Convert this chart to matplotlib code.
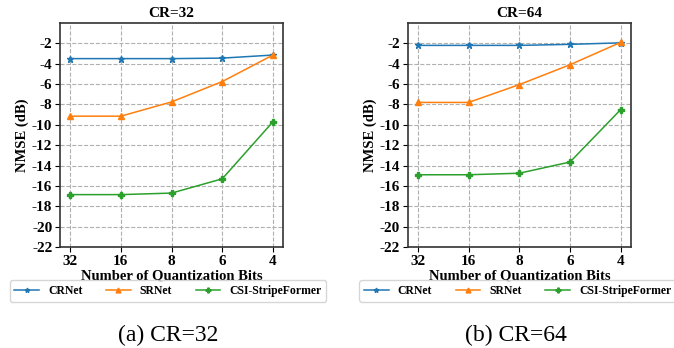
import matplotlib

matplotlib.use("Agg")

import matplotlib.pyplot as plt
import numpy as np

plt.rcParams["font.family"] = ["Liberation Serif", "DejaVu Serif"]
plt.rcParams["axes.unicode_minus"] = False

BITS = ["32", "16", "8", "6", "4"]
MODELS = ["CRNet", "SRNet", "CSI-StripeFormer"]
MARKERS = ["*", "^", "P"]
COLORS = ["#1f77b4", "#ff7f0e", "#2ca02c"]

CR32_CRNET = [-3.5, -3.5, -3.5, -3.45, -3.15]
CR32_SRNET = [-9.15, -9.15, -7.75, -5.75, -3.15]
CR32_STRIPE = [-16.85, -16.85, -16.7, -15.3, -9.7]

CR64_CRNET = [-2.2, -2.2, -2.2, -2.1, -1.95]
CR64_SRNET = [-7.8, -7.8, -6.05, -4.1, -1.9]
CR64_STRIPE = [-14.9, -14.9, -14.75, -13.65, -8.5]

PANELS = [
    ("CR=32", [CR32_CRNET, CR32_SRNET, CR32_STRIPE], "(a) CR=32"),
    ("CR=64", [CR64_CRNET, CR64_SRNET, CR64_STRIPE], "(b) CR=64"),
]


def draw_panel(ax, title, series):
    x = np.arange(len(BITS))
    handles = []
    for values, name, marker, color in zip(series, MODELS, MARKERS, COLORS):
        (line,) = ax.plot(x, values, marker=marker, color=color, label=name,
                          linewidth=1.1, markersize=5)
        handles.append(line)
    ax.set_xlim(-0.2, 4.2)
    ax.set_ylim(-22, 0)
    ax.set_xticks(x)
    ax.set_xticklabels(BITS)
    ax.set_yticks(np.arange(-22, -1, 2))
    ax.grid(True, linestyle="--", color="#b0b0b0", linewidth=0.8)
    ax.set_title(title, fontsize=11, fontweight="bold", pad=4)
    ax.set_xlabel("Number of Quantization Bits", fontsize=10.5, fontweight="bold", labelpad=1)
    ax.set_ylabel("NMSE (dB)", fontsize=10.5, fontweight="bold", labelpad=2)
    for lab in ax.get_xticklabels() + ax.get_yticklabels():
        lab.set_fontweight("bold")
    ax.tick_params(axis="both", labelsize=11, pad=2)
    for spine in ax.spines.values():
        spine.set_linewidth(1.2)
        spine.set_color("#333333")
    return handles


fig = plt.figure(figsize=(6.74, 3.48), dpi=100)
axes_left = [0.089, 0.605]
legend_x = [0.249, 0.768]
caption_x = [0.250, 0.766]

for (title, series, caption), left, lx, cx in zip(PANELS, axes_left, legend_x, caption_x):
    ax = fig.add_axes([left, 0.290, 0.331, 0.644])
    handles = draw_panel(ax, title, series)
    fig.legend(handles, MODELS, loc="upper center", bbox_to_anchor=(lx, 0.195), ncol=3,
               prop={"weight": "bold", "size": 8.5}, frameon=True, handlelength=2.1,
               handletextpad=0.75, columnspacing=2.0, borderpad=0.4, borderaxespad=0,
               markerscale=0.7)
    fig.text(cx, 0.037, caption, ha="center", va="center", fontsize=17)

fig.savefig("out.png", dpi=100)
